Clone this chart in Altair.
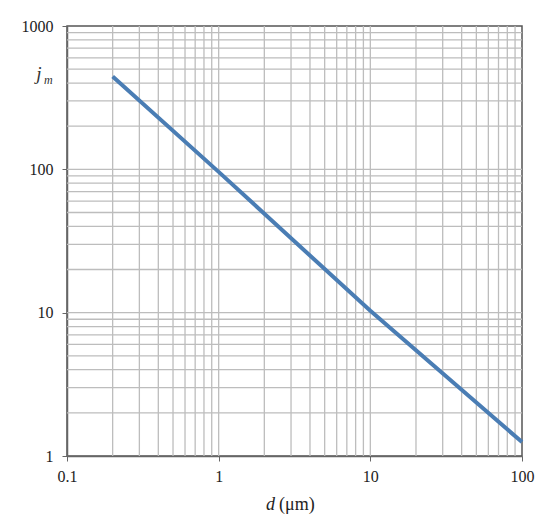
import altair as alt
import pandas as pd

# data
d_values = [0.2, 1, 10, 100]
jm_values = [445, 96, 10.3, 1.25]

x_grid = [0.2, 0.3, 0.4, 0.5, 0.6, 0.7, 0.8, 0.9, 1,
          2, 3, 4, 5, 6, 7, 8, 9, 10,
          20, 30, 40, 50, 60, 70, 80, 90]
y_grid = [2, 3, 4, 5, 6, 7, 8, 9, 10,
          20, 30, 40, 50, 60, 70, 80, 90, 100,
          200, 300, 400, 500, 600, 700, 800, 900]
x_ticks = [0.1, 1, 10, 100]
y_ticks = [1, 10, 100, 1000]

FONT = "Liberation Serif"
xscale = alt.Scale(type="log", domain=[0.1, 100], nice=False)
yscale = alt.Scale(type="log", domain=[1, 1000], nice=False)

xaxis = alt.Axis(values=x_ticks, format="~g", grid=False, title=None,
                 tickSize=5, tickColor="#666", domainColor="#666",
                 domainWidth=1.5, labelFont=FONT, labelFontSize=16,
                 labelColor="#222", labelPadding=7, labelFlush=False)
yaxis = alt.Axis(values=y_ticks, format="~g", grid=False, title=None,
                 tickSize=5, tickColor="#666", domainColor="#666",
                 domainWidth=1.5, labelFont=FONT, labelFontSize=16,
                 labelColor="#222", labelPadding=9)

line_df = pd.DataFrame({"d": d_values, "j": jm_values})
xg_df = pd.DataFrame({"d": x_grid})
yg_df = pd.DataFrame({"j": y_grid})
one = pd.DataFrame({"k": [0]})

vgrid = alt.Chart(xg_df).mark_rule(color="#bdbdbd", strokeWidth=1.3).encode(
    x=alt.X("d:Q", scale=xscale, axis=xaxis)
)
hgrid = alt.Chart(yg_df).mark_rule(color="#bdbdbd", strokeWidth=1.3).encode(
    y=alt.Y("j:Q", scale=yscale, axis=yaxis)
)

line = alt.Chart(line_df).mark_line(color="#4a7db4", strokeWidth=4).encode(
    x=alt.X("d:Q", scale=xscale, axis=xaxis),
    y=alt.Y("j:Q", scale=yscale, axis=yaxis),
)

j_txt = alt.Chart(one).mark_text(text="j", font=FONT, fontSize=19, fontStyle="italic",
                                 align="center", baseline="alphabetic", color="#333").encode(
    x=alt.value(-28), y=alt.value(54))
m_txt = alt.Chart(one).mark_text(text="m", font=FONT, fontSize=12, fontStyle="italic",
                                 align="left", baseline="alphabetic", color="#333").encode(
    x=alt.value(-23), y=alt.value(58))
d_txt = alt.Chart(one).mark_text(text="d", font=FONT, fontSize=18, fontStyle="italic",
                                 align="left", baseline="alphabetic", color="#222").encode(
    x=alt.value(199), y=alt.value(484))
unit_txt = alt.Chart(one).mark_text(text="(μm)", font=FONT, fontSize=18,
                                    align="left", baseline="alphabetic", color="#222").encode(
    x=alt.value(212), y=alt.value(484))

chart = alt.layer(vgrid, hgrid, line, j_txt, m_txt, d_txt, unit_txt).properties(
    width=455, height=430,
    autosize=alt.AutoSizeParams(type="none"),
    padding={"left": 59, "top": 18, "right": 20, "bottom": 62},
).configure(background="white").configure_view(stroke="#555", strokeWidth=1.5)

chart.save("out.html", embed_options={"renderer": "svg", "actions": False})
